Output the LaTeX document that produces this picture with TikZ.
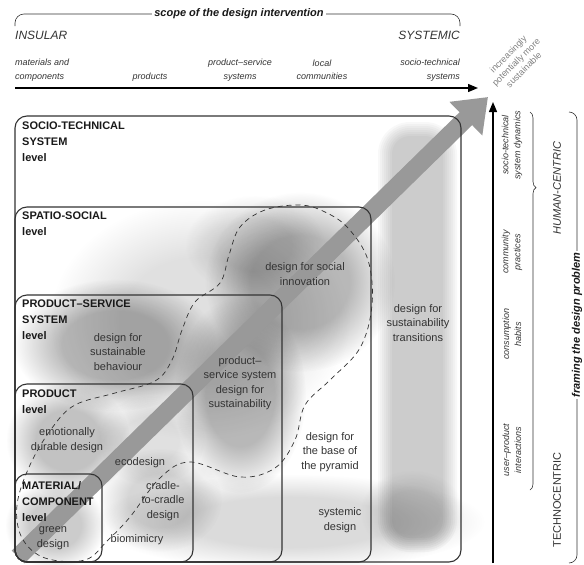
\documentclass[tikz,border=0pt]{standalone}
\usepackage{fontspec}
\setmainfont{Liberation Sans}
\usetikzlibrary{arrows.meta,decorations.pathreplacing,fadings}
\pgfdeclareradialshading{blobshade}{\pgfpointorigin}{color(0bp)=(white); color(13bp)=(white); color(25bp)=(black); color(50bp)=(black)}
\pgfdeclarefading{softblob}{\pgfuseshading{blobshade}}
\definecolor{ink}{HTML}{333333}
\begin{document}
\begin{tikzpicture}[x=1pt,y=-1pt]
  \tikzset{ lvl/.style={draw=ink,line width=1.1pt,rounded corners=12pt},
    ttl/.style={anchor=north west,align=left,inner sep=0pt,text=black!90,font=\bfseries\fontsize{11}{16}\selectfont},
    lab/.style={align=center,inner sep=0pt,text=ink,font=\fontsize{11}{14.5}\selectfont},
    scp/.style={align=center,inner sep=0pt,text=ink,font=\itshape\fontsize{9}{13.5}\selectfont},
    frm/.style={align=center,inner sep=0pt,rotate=90,text=ink,font=\itshape\fontsize{9}{12}\selectfont},
    blob/.style={fill=black,path fading=softblob},
    dsh/.style={draw=ink,line width=.7pt,dash pattern=on 5pt off 4pt},
    ax/.style={line width=1.3pt,-{Triangle[length=10pt,width=8pt]}},
  }
  \useasboundingbox (0,0) rectangle (584,565);

  % soft grey clouds behind the levels
  \foreach \d in {0,2,...,14}
    \fill[black,fill opacity=.026,rounded corners={(32-\d)*1pt}] ({378+\d},{122+\d}) rectangle ({457-\d},{552-\d});
  \fill[blob,fill opacity=.10] (412,512) ellipse (52 and 42);
  \fill[blob,fill opacity=.14] (290,522) ellipse (195 and 48);
  \fill[blob,fill opacity=.12] (200,320) ellipse (150 and 120);
  \fill[blob,fill opacity=.28] (300,282) ellipse (95 and 90);
  \fill[blob,fill opacity=.12] (255,245) ellipse (70 and 50);
  \fill[blob,fill opacity=.28] (240,395) ellipse (66 and 98);
  \fill[blob,fill opacity=.28] (115,345) ellipse (102 and 66);
  \fill[blob,fill opacity=.24] (68,440) ellipse (62 and 58);
  \fill[blob,fill opacity=.12] (150,440) ellipse (55 and 45);
  \fill[blob,fill opacity=.16] (160,500) ellipse (62 and 52);
  \fill[blob,fill opacity=.20] (55,525) ellipse (50 and 45);

  % the big grey arrow across the levels
  \coordinate (g0) at (18,557);
  \coordinate (g1) at (488,97);
  \draw[line width=18pt,draw=black!40,-{Triangle[length=31pt,width=45pt]}] (g0) -- (g1);

  % the nested levels
  \draw[lvl] (15,116) rectangle (461,562);
  \draw[lvl] (15,207) rectangle (371,562);
  \draw[lvl] (15,295) rectangle (282,562);
  \draw[lvl] (15,384) rectangle (193,562);
  \draw[lvl] (15,474) rectangle (102,562);

  \node[ttl] (st) at (22,122) {SOCIO-TECHNICAL\\SYSTEM\\level};
  \node[ttl] (ss) at (22,212) {SPATIO-SOCIAL\\level};
  \node[ttl] (pss) at (22,300) {PRODUCT–SERVICE\\SYSTEM\\level};
  \node[ttl] (pr) at (22,390) {PRODUCT\\level};
  \node[ttl] (mc) at (22,481) {MATERIAL/\\COMPONENT\\level};

  \draw[dsh] plot[smooth cycle,tension=.6] coordinates {(300,205) (265,210) (240,227) (229,255)
    (220,283) (195,302) (182,330) (172,360) (155,381) (115,393) (75,405) (52,428) (30,465)
    (17,505) (22,538) (45,558) (85,560) (108,540) (130,517) (160,478) (190,462) (240,477)
    (275,468) (295,440) (305,405) (330,380) (360,348) (372,305) (368,260) (348,228) (325,212)};

  \node[lab] (soc) at (305,274) {design for social\\innovation};
  \node[lab] (trn) at (418,323) {design for\\sustainability\\transitions};
  \node[lab] (bop) at (330,452) {design for\\the base of\\the pyramid};
  \node[lab] (sys) at (340,520) {systemic\\design};
  \node[lab] (pssd) at (240,383) {product–\\service system\\design for\\sustainability};
  \node[lab] (beh) at (118,352) {design for\\sustainable\\behaviour};
  \node[lab] (emo) at (67,440) {emotionally\\durable design};
  \node[lab] (eco) at (140,463) {ecodesign};
  \node[lab] (c2c) at (163,501) {cradle-\\to-cradle\\design};
  \node[lab] (grn) at (53,538) {green\\design};
  \node[lab] (bio) at (137,540) {biomimicry};

  % scope of the design intervention
  \draw[ink,line width=.6pt,rounded corners=9pt] (15,26) -- (15,14) -- (460,14) -- (460,26);
  \node[fill=white,inner sep=2pt,text=black!90,font=\bfseries\itshape\fontsize{11}{13}\selectfont] (scope) at (239,14) {scope of the design intervention};
  \node[anchor=west,inner sep=0pt,text=ink,font=\itshape\fontsize{12}{14}\selectfont] (ins) at (15,35) {INSULAR};
  \node[anchor=east,inner sep=0pt,text=ink,font=\itshape\fontsize{12}{14}\selectfont] (sysm) at (460,35) {SYSTEMIC};
  \node[scp,anchor=west,align=left] (s1) at (15,70) {materials and\\components};
  \node[scp] (s2) at (150,77) {products};
  \node[scp] (s3) at (240,70) {product–service\\systems};
  \node[scp] (s4) at (322,70) {local\\communities};
  \node[scp,anchor=east,align=right] (s5) at (460,70) {socio-technical\\systems};
  \coordinate (h0) at (15,88);
  \coordinate (h1) at (478,88);
  \draw[ax] (h0) -- (h1);

  \node[align=center,rotate=45,inner sep=0pt,text=black!50,font=\fontsize{9}{11}\selectfont] (more) at (516,62) {increasingly\\potentially more\\sustainable};

  % framing the design problem
  \coordinate (v0) at (493,563);
  \coordinate (v1) at (493,102);
  \draw[ax] (v0) -- (v1);
  \node[frm] (f1) at (512,145) {socio-technical\\system dynamics};
  \node[frm] (f2) at (512,252) {community\\practices};
  \node[frm] (f3) at (512,334) {consumption\\habits};
  \node[frm] (f4) at (512,450) {user–product\\interactions};
  \coordinate (b0) at (530,112);
  \coordinate (b1) at (530,490);
  \draw[ink,line width=.6pt,decorate,decoration={brace,amplitude=6pt,aspect=.2}] (b0) -- (b1);
  \node[rotate=90,inner sep=0pt,text=ink,font=\itshape\fontsize{11}{13}\selectfont] (hum) at (557,188) {HUMAN-CENTRIC};
  \node[rotate=90,inner sep=0pt,text=ink,font=\fontsize{11}{13}\selectfont] (tec) at (557,500) {TECHNOCENTRIC};
  \draw[ink,line width=.6pt,rounded corners=8pt] (569,112) -- (577,112) -- (577,563) -- (569,563);
  \node[rotate=90,fill=white,inner sep=2pt,text=black!90,font=\bfseries\itshape\fontsize{11}{13}\selectfont] (frame) at (577,325) {framing the design problem};
\end{tikzpicture}
\end{document}
